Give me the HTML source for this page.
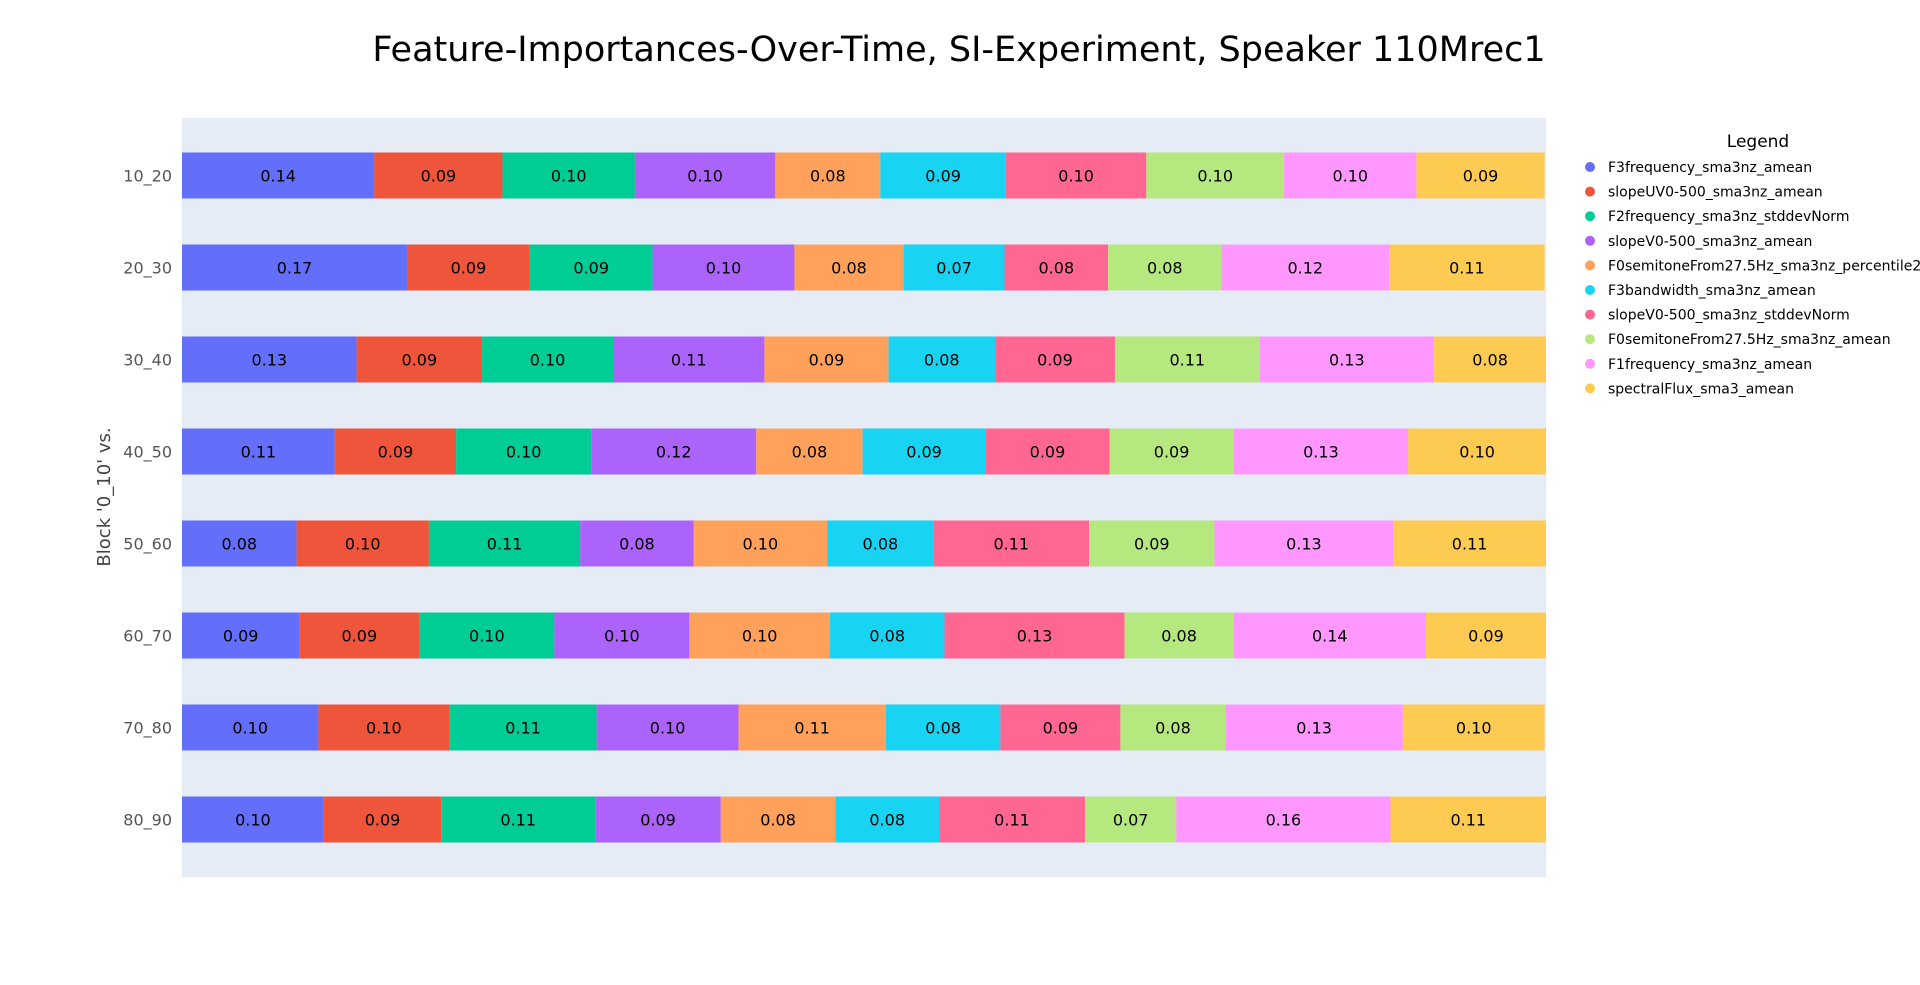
<!DOCTYPE html>
<html><head><meta charset="utf-8"><style>
html,body{margin:0;padding:0;background:#fff;}
svg{display:block;font-family:"DejaVu Sans","Liberation Sans",sans-serif;}
</style></head><body>
<svg id="chart" width="1920" height="985" viewBox="0 0 1920 985">
<rect x="0" y="0" width="1920" height="985" fill="#fff"/>
<text x="959" y="61" text-anchor="middle" font-size="35" fill="#000">Feature-Importances-Over-Time, SI-Experiment, Speaker 110Mrec1</text>
<rect x="182" y="118" width="1364" height="759" fill="#E5ECF6"/>
<g id="bars"></g>
<g id="yticks"></g>
<text transform="translate(110,497) rotate(-90)" text-anchor="middle" font-size="18" fill="#444">Block '0_10' vs.</text>
<text x="1758" y="147" text-anchor="middle" font-size="17" fill="#000">Legend</text>
<g id="legend"></g>
</svg>
<script>
const categories = ["10_20","20_30","30_40","40_50","50_60","60_70","70_80","80_90"];
const features = ["F3frequency_sma3nz_amean","slopeUV0-500_sma3nz_amean","F2frequency_sma3nz_stddevNorm","slopeV0-500_sma3nz_amean","F0semitoneFrom27.5Hz_sma3nz_percentile20.0","F3bandwidth_sma3nz_amean","slopeV0-500_sma3nz_stddevNorm","F0semitoneFrom27.5Hz_sma3nz_amean","F1frequency_sma3nz_amean","spectralFlux_sma3_amean"];
const colors = ["#636efa","#EF553B","#00cc96","#ab63fa","#FFA15A","#19d3f3","#FF6692","#B6E880","#FF97FF","#FECB52"];
const row_10_20 = [0.141,0.094,0.097,0.103,0.077,0.092,0.103,0.101,0.097,0.094];
const row_20_30 = [0.165,0.090,0.090,0.104,0.080,0.074,0.076,0.083,0.123,0.114];
const row_30_40 = [0.128,0.092,0.096,0.111,0.091,0.078,0.088,0.106,0.128,0.082];
const row_40_50 = [0.112,0.089,0.099,0.121,0.078,0.090,0.091,0.091,0.128,0.101];
const row_50_60 = [0.084,0.097,0.111,0.083,0.098,0.078,0.114,0.092,0.131,0.112];
const row_60_70 = [0.086,0.088,0.099,0.099,0.103,0.084,0.132,0.080,0.141,0.088];
const row_70_80 = [0.100,0.096,0.108,0.104,0.108,0.084,0.088,0.077,0.130,0.104];
const row_80_90 = [0.104,0.086,0.113,0.092,0.084,0.076,0.107,0.067,0.157,0.114];
const rows = [row_10_20,row_20_30,row_30_40,row_40_50,row_50_60,row_60_70,row_70_80,row_80_90];

const NS = "http://www.w3.org/2000/svg";
const X0 = 182, X1 = 1546, Y0 = 118, Y1 = 877;
const xMax = 1;
function xScale(v){ return X0 + (Math.min(v, xMax) / xMax) * (X1 - X0); }
const band = (Y1 - Y0) / (categories.length + 0.25);
function yScale(i){ return Y0 + band * (0.625 + i); }
const barH = band * 0.5;

function mk(tag, attrs){ const e = document.createElementNS(NS, tag); for (const k in attrs) e.setAttribute(k, attrs[k]); return e; }

const gb = document.getElementById('bars');
rows.forEach((vals, i) => {
  let cum = 0;
  const cy = yScale(i);
  vals.forEach((v, j) => {
    const xa = xScale(cum), xb = xScale(cum + v);
    const r = mk('rect', {x: xa, y: cy - barH/2, width: Math.max(0, xb - xa), height: barH, fill: colors[j]});
    
    
    gb.appendChild(r);
    const t = mk('text', {x: (xa + xb)/2, y: cy + 6, 'text-anchor': 'middle', 'font-size': 16, fill: '#000'});
    t.textContent = v.toFixed(2);
    
    
    gb.appendChild(t);
    cum += v;
  });
});

const gy = document.getElementById('yticks');
categories.forEach((c, i) => {
  const t = mk('text', {x: 172, y: yScale(i) + 6, 'text-anchor': 'end', 'font-size': 16, fill: '#555'});
  t.textContent = c;
  
  
  gy.appendChild(t);
});

const gl = document.getElementById('legend');
features.forEach((f, j) => {
  const y = 167 + j * 24.6;
  const g = mk('g', {});
  
  
  g.appendChild(mk('circle', {cx: 1590, cy: y, r: 5, fill: colors[j]}));
  const t = mk('text', {x: 1608, y: y + 5, 'font-size': 14, fill: '#000'});
  t.textContent = f;
  g.appendChild(t);
  gl.appendChild(g);
});
</script>
</body></html>
